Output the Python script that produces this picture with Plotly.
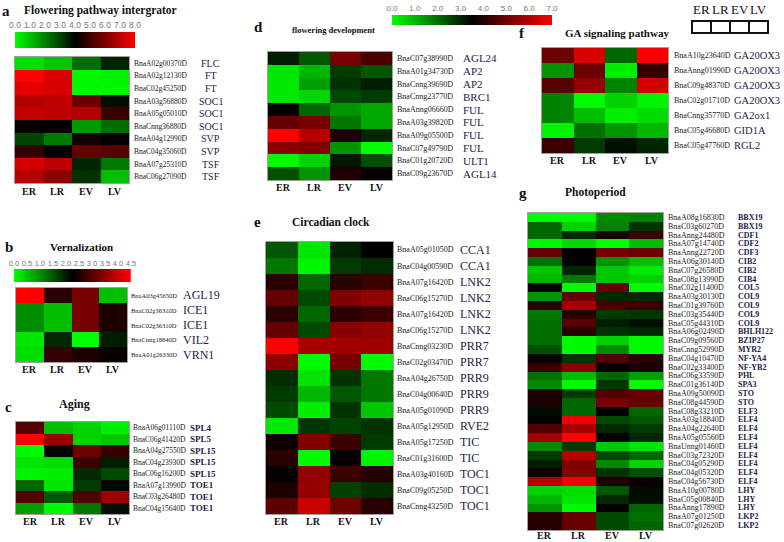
import numpy as np
import plotly.graph_objects as go

W, H = 784, 542
cols = ["ER", "LR", "EV", "LV"]

# ---------------- data ----------------
a_ids = ["BnaA02g00370D", "BnaA02g12130D", "BnaC02g45250D", "BnaA03g56880D", "BnaA05g05010D",
         "BnaCnng36880D", "BnaA04g12990D", "BnaC04g35060D", "BnaA07g25310D", "BnaC06g27090D"]
a_genes = ["FLC", "FT", "FT", "SOC1", "SOC1", "SOC1", "SVP", "SVP", "TSF", "TSF"]
a_values = [[0.5, 0.9, 2.3, 3.5], [8.0, 7.4, 0.1, 0.2], [7.6, 7.4, 0.1, 0.1], [6.8, 7.0, 5.7, 3.8],
            [7.1, 7.0, 6.8, 4.9], [4.05, 4.0, 1.6, 2.3], [2.9, 2.1, 4.3, 4.05], [4.8, 4.0, 5.6, 5.4],
            [7.3, 7.0, 3.4, 2.1], [6.9, 6.2, 3.2, 1.0]]
a_ticks = [0, 1, 2, 3, 4, 5, 6, 7, 8]

b_ids = ["BnaA03g45650D", "BnaC02g36310D", "BnaC02g36310D", "BnaCnng18840D", "BnaA01g26330D"]
b_genes = ["AGL19", "ICE1", "ICE1", "VIL2", "VRN1"]
b_values = [[4.5, 2.6, 3.3, 0.57], [1.0, 0.57, 3.3, 2.5], [1.0, 0.57, 3.3, 2.5],
            [0.22, 1.9, 0.0, 2.0], [0.3, 2.7, 2.5, 2.35]]
b_ticks = [0, 0.5, 1.0, 1.5, 2.0, 2.5, 3.0, 3.5, 4.0, 4.5]

c_ids = ["BnaA06g01110D", "BnaC06g41420D", "BnaA04g27550D", "BnaC04g23930D", "BnaC06g16200D",
         "BnaA07g13990D", "BnaC03g26480D", "BnaC04g15640D"]
c_genes = ["SPL4", "SPL5", "SPL15", "SPL15", "SPL15", "TOE1", "TOE1", "TOE1"]
c_values = [[4.7, 0.9, 0.6, 0.2], [7.0, 5.6, 0.6, 0.75], [0.07, 3.4, 5.0, 4.2], [0.35, 0.5, 4.3, 3.1],
            [0.15, 0.2, 2.95, 2.5], [2.1, 0.35, 2.7, 3.4], [4.7, 2.3, 4.6, 5.7], [1.3, 0.07, 1.85, 3.3]]

d_ids = ["BnaC07g38990D", "BnaA01g34730D", "BnaCnng39690D", "BnaCnng23770D", "BnaAnng06660D",
         "BnaA03g39820D", "BnaA09g05500D", "BnaC07g49790D", "BnaC01g20720D", "BnaC09g23670D"]
d_genes = ["AGL24", "AP2", "AP2", "BRC1", "FUL", "FUL", "FUL", "FUL", "ULT1", "AGL14"]
d_values = [[3.1, 2.3, 5.1, 4.5], [0.35, 1.0, 2.7, 2.3], [0.3, 1.3, 2.8, 3.1], [0.3, 0.55, 2.5, 2.7],
            [3.5, 2.1, 1.45, 1.2], [4.9, 5.1, 1.85, 1.2], [7.0, 6.0, 3.9, 3.0], [5.4, 5.3, 1.45, 0.0],
            [0.07, 0.6, 3.2, 2.4], [2.4, 1.45, 3.9, 3.6]]

e_ids = ["BnaA05g01050D", "BnaC04g00590D", "BnaA07g16420D", "BnaC06g15270D", "BnaA07g16420D",
         "BnaC06g15270D", "BnaCnng03230D", "BnaC02g03470D", "BnaA04g26750D", "BnaC04g00640D",
         "BnaA05g01090D", "BnaA05g12950D", "BnaA05g17250D", "BnaC01g31600D", "BnaA03g40160D",
         "BnaC09g05250D", "BnaCnng43250D"]
e_genes = ["CCA1", "CCA1", "LNK2", "LNK2", "LNK2", "LNK2", "PRR7", "PRR7", "PRR9", "PRR9", "PRR9",
           "RVE2", "TIC", "TIC", "TOC1", "TOC1", "TOC1"]
e_values = [[2.3, 0.35, 3.0, 3.5], [1.85, 0.15, 2.7, 2.9], [4.05, 2.1, 4.05, 4.3], [4.9, 2.5, 5.3, 5.5],
            [4.1, 2.1, 4.1, 4.3], [4.9, 2.5, 5.4, 5.55], [7.0, 5.8, 5.7, 5.7], [5.4, 0.07, 5.1, 0.07],
            [2.9, 0.4, 2.8, 1.85], [2.7, 1.0, 2.3, 1.85], [2.5, 0.2, 2.8, 0.75], [0.3, 2.75, 2.6, 2.8],
            [3.7, 5.3, 4.3, 2.7], [4.05, 0.07, 3.6, 0.15], [3.6, 5.5, 4.3, 4.0], [3.9, 5.55, 2.6, 2.9],
            [4.8, 6.25, 5.0, 4.05]]

f_ids = ["BnaA10g23640D", "BnaAnng01990D", "BnaC09g48370D", "BnaC02g01710D", "BnaCnng35770D",
         "BnaC05g46680D", "BnaC05g47760D"]
f_genes = ["GA20OX3", "GA20OX3", "GA20OX3", "GA20OX3", "GA2ox1", "GID1A", "RGL2"]
f_values = [[5.0, 6.5, 2.1, 6.95], [1.45, 5.0, 0.2, 4.2], [4.7, 5.55, 1.7, 6.4], [1.7, 0.07, 0.6, 0.15],
            [1.7, 0.9, 0.2, 0.5], [0.15, 1.95, 1.45, 1.0], [4.3, 2.7, 3.3, 3.0]]

g_ids = ["BnaA08g16830D", "BnaC03g60270D", "BnaAnng24480D", "BnaA07g14740D", "BnaAnng22720D",
         "BnaA06g30140D", "BnaC07g26580D", "BnaC08g13990D", "BnaC02g11400D", "BnaA03g30130D",
         "BnaC01g39760D", "BnaC03g35440D", "BnaC05g44310D", "BnaA06g02490D", "BnaC09g09560D",
         "BnaCnng52990D", "BnaC04g10470D", "BnaC02g33400D", "BnaC06g33590D", "BnaC01g36140D",
         "BnaA09g50090D", "BnaC08g44590D", "BnaC08g33210D", "BnaA03g18840D", "BnaA04g22640D",
         "BnaA05g05560D", "BnaUnng01460D", "BnaC03g72320D", "BnaC04g05290D", "BnaC04g05320D",
         "BnaC04g56730D", "BnaA10g00780D", "BnaC05g00840D", "BnaAnng17890D", "BnaA07g01250D",
         "BnaC07g02620D"]
g_genes = ["BBX19", "BBX19", "CDF1", "CDF2", "CDF3", "CIB2", "CIB2", "CIB4", "COL5", "COL9", "COL9",
           "COL9", "COL9", "BHLH122", "BZIP27", "MYR2", "NF-YA4", "NF-YB2", "PHL", "SPA3", "STO", "STO",
           "ELF3", "ELF4", "ELF4", "ELF4", "ELF4", "ELF4", "ELF4", "ELF4", "ELF4", "LHY", "LHY", "LHY",
           "LKP2", "LKP2"]
g_values = [[0.07, 0.07, 1.6, 1.7], [2.1, 0.6, 1.7, 2.8], [2.1, 2.95, 3.9, 4.3], [0.07, 0.5, 0.0, 0.9],
            [4.9, 3.5, 5.15, 5.0], [1.95, 3.45, 1.45, 0.9], [0.75, 3.0, 0.75, 0.3], [1.0, 1.85, 0.75, 0.6],
            [3.5, 0.07, 4.9, 0.07], [1.45, 4.9, 2.95, 2.95], [4.05, 5.7, 4.45, 4.25], [1.85, 4.05, 2.7, 2.75],
            [1.95, 4.75, 3.1, 3.3], [1.95, 4.05, 2.8, 2.95], [1.95, 0.07, 0.6, 0.07], [2.4, 0.07, 1.6, 0.07],
            [3.6, 2.8, 4.6, 4.05], [4.3, 5.4, 3.55, 3.85], [1.95, 0.9, 2.1, 1.3], [1.6, 0.07, 2.75, 0.07],
            [3.9, 2.7, 4.6, 4.9], [3.85, 2.1, 5.15, 4.9], [3.35, 2.1, 3.5, 2.1], [3.45, 6.8, 2.5, 2.3],
            [4.6, 5.8, 2.95, 2.7], [5.7, 7.0, 3.55, 2.95], [1.6, 2.7, 0.75, 0.35], [2.7, 6.0, 2.5, 2.1],
            [3.1, 5.3, 1.6, 0.6], [3.7, 5.3, 2.8, 2.4], [6.0, 6.8, 3.9, 3.6], [0.6, 0.5, 2.3, 3.35],
            [1.0, 0.35, 2.95, 3.3], [1.45, 0.07, 3.55, 2.1], [4.05, 4.9, 2.5, 1.95], [4.0, 4.9, 2.5, 2.1]]
top_ticks = [0, 1, 2, 3, 4, 5, 6, 7]

# ---------------- layout helpers ----------------
SERIF = "Liberation Serif"
SANS = "Liberation Sans"
NAVY = "#1d2348"
scale = [[0, "rgb(0,255,0)"], [0.5, "rgb(0,0,0)"], [1, "rgb(255,0,0)"]]


def X(p):
    return p / W


def Y(p):
    return 1 - p / H


fig = go.Figure()
layout = {}
annotations = []
axis_n = [0]


def new_axes():
    axis_n[0] += 1
    n = axis_n[0]
    sfx = "" if n == 1 else str(n)
    return "x" + sfx, "y" + sfx, "xaxis" + sfx, "yaxis" + sfx


panels = [
    dict(ids=a_ids, genes=a_genes, vals=a_values, zmax=8, box=(15, 129, 57, 183), idx=133, idsize=7.5,
         gx=211, ganchor="center", gsize=10, gbold=False, lab=191),
    dict(ids=b_ids, genes=b_genes, vals=b_values, zmax=4.5, box=(16, 127, 288, 362), idx=130, idsize=6.5,
         gx=182, ganchor="left", gsize=12, gbold=False, lab=369),
    dict(ids=c_ids, genes=c_genes, vals=c_values, zmax=7, box=(16, 129, 422, 514), idx=132, idsize=7.5,
         gx=189, ganchor="left", gsize=9, gbold=True, lab=521),
    dict(ids=d_ids, genes=d_genes, vals=d_values, zmax=7, box=(268, 392, 52, 180), idx=396, idsize=8,
         gx=462, ganchor="left", gsize=11, gbold=False, lab=187),
    dict(ids=e_ids, genes=e_genes, vals=e_values, zmax=7, box=(266, 393, 242, 514), idx=396, idsize=8,
         gx=459, ganchor="left", gsize=12, gbold=False, lab=521),
    dict(ids=f_ids, genes=f_genes, vals=f_values, zmax=7, box=(542, 668, 48, 153), idx=673, idsize=8,
         gx=733, ganchor="left", gsize=10.5, gbold=False, lab=160),
    dict(ids=g_ids, genes=g_genes, vals=g_values, zmax=7, box=(528, 663, 213, 530), idx=667, idsize=8,
         gx=737, ganchor="left", gsize=8, gbold=True, lab=535),
]

for p in panels:
    x0, x1, y0, y1 = p["box"]
    xr, yr, xk, yk = new_axes()
    nrows = len(p["ids"])
    fig.add_trace(go.Heatmap(z=p["vals"], x=cols, y=list(range(nrows)), zmin=0, zmax=p["zmax"],
                             colorscale=scale, showscale=False, xaxis=xr, yaxis=yr,
                             hoverinfo="skip"))
    layout[xk] = dict(domain=[X(x0), X(x1)], anchor=yr, type="category", showgrid=False,
                      zeroline=False, ticks="", showline=True, mirror=True, linecolor="#a0a0a0",
                      linewidth=1, showticklabels=False, automargin=False, fixedrange=True)
    layout[yk] = dict(domain=[Y(y1), Y(y0)], anchor=xr, range=[nrows - 0.5, -0.5], showgrid=False,
                      zeroline=False, showticklabels=False, ticks="", showline=True, mirror=True,
                      linecolor="#a0a0a0", linewidth=1, automargin=False, fixedrange=True)
    # column labels under each heatmap, placed on the category axis
    for c in cols:
        annotations.append(dict(x=c, xref=xr, y=Y(p["lab"]), yref="paper", text=c, showarrow=False,
                                xanchor="center", yanchor="middle",
                                font=dict(family=SERIF, size=10, color="#111", weight="bold")))
    for i, (gid, gname) in enumerate(zip(p["ids"], p["genes"])):
        annotations.append(dict(x=X(p["idx"]), xref="paper", y=i, yref=yr, text=gid, showarrow=False,
                                xanchor="left", yanchor="middle", borderpad=0,
                                font=dict(family=SERIF, size=p["idsize"], color="#222")))
        annotations.append(dict(x=X(p["gx"]), xref="paper", y=i, yref=yr, text=gname, showarrow=False,
                                xanchor=p["ganchor"], yanchor="middle", borderpad=0,
                                font=dict(family=SERIF, size=p["gsize"], color=NAVY,
                                          weight="bold" if p["gbold"] else "normal")))

# ---------------- colour bars ----------------
bars = [
    dict(zmax=8, ticks=a_ticks, box=(15, 135, 32, 48), size=8.5),
    dict(zmax=4.5, ticks=b_ticks, box=(14, 131, 269, 282), size=7.5),
    dict(zmax=7, ticks=top_ticks, box=(392, 552, 15, 25), size=8),
]
for bdef in bars:
    x0, x1, y0, y1 = bdef["box"]
    xr, yr, xk, yk = new_axes()
    grad = np.linspace(0, bdef["zmax"], 240)
    fig.add_trace(go.Heatmap(z=[grad], x=grad, y=[0], zmin=0, zmax=bdef["zmax"], colorscale=scale,
                             showscale=False, xaxis=xr, yaxis=yr, hoverinfo="skip"))
    layout[xk] = dict(domain=[X(x0), X(x1)], anchor=yr, range=[0, bdef["zmax"]], side="top",
                      tickvals=bdef["ticks"], ticktext=["{:.1f}".format(t) for t in bdef["ticks"]],
                      ticks="", showgrid=False, zeroline=False, showline=False, tickangle=0,
                      automargin=False, ticklabelstandoff=1,
                      tickfont=dict(family=SANS, size=bdef["size"], color="#777"), fixedrange=True)
    layout[yk] = dict(domain=[Y(y1), Y(y0)], anchor=xr, visible=False, automargin=False,
                      fixedrange=True)

# ---------------- titles and panel letters ----------------
letters = [
    ("a", 0, 11), ("b", 3, 247), ("c", 3, 407), ("d", 252, 27),
    ("e", 252, 222), ("f", 517, 33), ("g", 517, 193),
]
for t, x, y in letters:
    annotations.append(dict(x=X(x), y=Y(y), xref="paper", yref="paper", text=t, showarrow=False,
                            xanchor="left", yanchor="middle",
                            font=dict(family=SERIF, size=15, color="#111", weight="bold")))
titles = [
    ("Flowering pathway intergrator", 22, 11, 11.5), ("Vernalization", 48, 247, 11),
    ("Aging", 57, 404, 12), ("flowering development", 290, 30, 8.5),
    ("Circadian clock", 290, 222, 11.5), ("GA signaling pathway", 563, 33, 11),
    ("Photoperiod", 563, 192, 11.5),
]
for t, x, y, s in titles:
    annotations.append(dict(x=X(x), y=Y(y), xref="paper", yref="paper", text=t, showarrow=False,
                            xanchor="left", yanchor="middle",
                            font=dict(family=SERIF, size=s, color="#111", weight="bold")))

# legend boxes (top right)
shapes = []
bx0, bx1, by0, by1 = 692, 768, 21, 33
step = (bx1 - bx0) / 4
for i, c in enumerate(cols):
    shapes.append(dict(type="rect", xref="paper", yref="paper", x0=X(bx0 + i * step),
                       x1=X(bx0 + (i + 1) * step), y0=Y(by1), y1=Y(by0),
                       line=dict(color="#111", width=2), fillcolor="white"))
    annotations.append(dict(x=X(bx0 + (i + 0.5) * step), y=Y(10), xref="paper", yref="paper", text=c,
                            showarrow=False, xanchor="center", yanchor="middle",
                            font=dict(family=SERIF, size=13, color="#111")))

fig.update_layout(width=W, height=H, margin=dict(l=0, r=0, t=0, b=0, autoexpand=False),
                  paper_bgcolor="white", plot_bgcolor="white", annotations=annotations,
                  shapes=shapes, showlegend=False, **layout)
fig.write_html("out.html", config={"displayModeBar": False},
               post_script="document.body.style.margin='0';document.body.style.padding='0';")
